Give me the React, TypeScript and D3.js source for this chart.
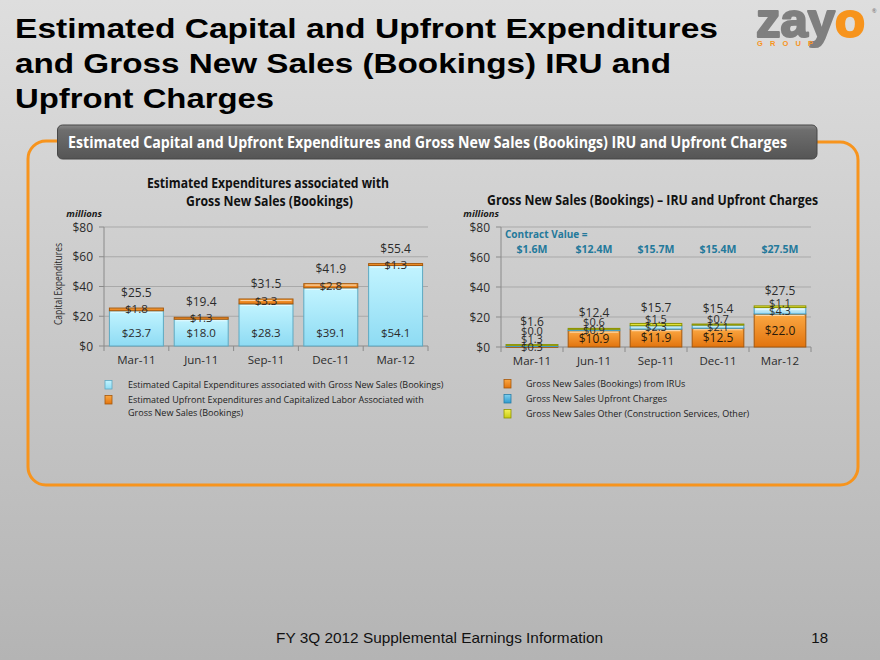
import React from 'react';
import * as d3 from 'd3';

// ---------- data ----------
const categories = ['Mar-11', 'Jun-11', 'Sep-11', 'Dec-11', 'Mar-12'];
// left chart
const capexValues = [23.7, 18.0, 28.3, 39.1, 54.1];
const upfrontExpValues = [1.8, 1.3, 3.3, 2.8, 1.3];
const expTotals = [25.5, 19.4, 31.5, 41.9, 55.4];
// right chart
const iruValues = [0.3, 10.9, 11.9, 12.5, 22.0];
const upfrontChargeValues = [1.3, 0.9, 2.3, 2.1, 4.3];
const otherValues = [0.0, 0.6, 1.5, 0.7, 1.1];
const bookingTotals = [1.6, 12.4, 15.7, 15.4, 27.5];
const contractValues = ['$1.6M', '$12.4M', '$15.7M', '$15.4M', '$27.5M'];
const yTicks = [0, 20, 40, 60, 80];

const leftLegend = [
  { key: 'cyan', lines: ['Estimated Capital Expenditures associated with Gross New Sales (Bookings)'] },
  { key: 'orange', lines: ['Estimated Upfront Expenditures and Capitalized Labor Associated with', 'Gross New Sales (Bookings)'] },
];
const rightLegend = [
  { key: 'orange', lines: ['Gross New Sales (Bookings) from IRUs'] },
  { key: 'blue', lines: ['Gross New Sales Upfront Charges'] },
  { key: 'yellow', lines: ['Gross New Sales Other (Construction Services, Other)'] },
];

const SANS = "'Open Sans', 'Noto Sans', sans-serif";
const ARIAL = "'Liberation Sans', Arial, sans-serif";
const fmt = (v: number) => `$${v.toFixed(1)}`;

const fills: Record<string, { grad: string; stroke: string }> = {
  cyan: { grad: 'gCyan', stroke: '#5ea9c2' },
  orange: { grad: 'gOrange', stroke: '#a6580c' },
  lightblue: { grad: 'gLightBlue', stroke: '#3e9bc4' },
  yellow: { grad: 'gYellow', stroke: '#8f9400' },
  blue: { grad: 'gBlue', stroke: '#2a7ea8' },
};

function Axes({ box, x, y }: any) {
  const step = x.step();
  return (
    <g>
      {yTicks.map((t) => (
        <g key={t}>
          {t > 0 && <line x1={box.left} x2={box.right} y1={y(t)} y2={y(t)} stroke="#a9a9a9" strokeWidth={1} />}
          <line x1={box.left - 5} x2={box.left} y1={y(t)} y2={y(t)} stroke="#8a8a8a" />
          <text x={box.left - 11} y={y(t) + 4.5} textAnchor="end" fontFamily={SANS} fontSize={12} fill="#2b2b2b">{`$${t}`}</text>
        </g>
      ))}
      <line x1={box.left} x2={box.left} y1={box.top} y2={box.bottom} stroke="#8a8a8a" />
      <line x1={box.left} x2={box.right} y1={box.bottom} y2={box.bottom} stroke="#8a8a8a" />
      {d3.range(categories.length + 1).map((i) => (
        <line key={i} x1={box.left + i * step} x2={box.left + i * step} y1={box.bottom} y2={box.bottom + 5} stroke="#8a8a8a" />
      ))}
      {categories.map((c) => (
        <text key={c} x={x(c) + x.bandwidth() / 2} y={box.bottom + 18} textAnchor="middle" fontFamily={SANS} fontSize={11.5} fill="#2b2b2b">{c}</text>
      ))}
      <text x={box.left - 2} y={box.top - 10} textAnchor="end" fontFamily={SANS} fontSize={9.5} fontStyle="italic" fontWeight="bold" fill="#1a1a1a">millions</text>
    </g>
  );
}

function Bar({ x, y0, y1, w, k }: any) {
  const f = fills[k];
  const h = Math.max(0.8, y0 - y1);
  return (
    <g>
      <rect x={x} y={y1} width={w} height={h} fill={`url(#${f.grad})`} stroke={f.stroke} strokeWidth={1} />
      {h > 4 && <line x1={x + 1.5} x2={x + w - 1.5} y1={y1 + 1.5} y2={y1 + 1.5} stroke="#ffffff" strokeOpacity={0.55} strokeWidth={1.2} />}
    </g>
  );
}

function LeftChart() {
  const box = { left: 104, right: 428, top: 227, bottom: 346 };
  const x = d3.scaleBand<string>().domain(categories).range([box.left, box.right]).paddingInner(0.167).paddingOuter(0.0835);
  const y = d3.scaleLinear().domain([0, 80]).range([box.bottom, box.top]);
  const rows = categories.map((c, i) => ({ cat: c, capex: capexValues[i], upfront: upfrontExpValues[i] }));
  const series = d3.stack<any>().keys(['capex', 'upfront'])(rows);
  const colorOf: Record<string, string> = { capex: 'cyan', upfront: 'orange' };
  const bw = x.bandwidth();
  return (
    <g>
      <text x={268} y={188} textAnchor="middle" fontFamily={SANS} fontWeight="bold" fontSize={13.5} fill="#111" textLength={242} lengthAdjust="spacingAndGlyphs">Estimated Expenditures associated with</text>
      <text x={269.5} y={206} textAnchor="middle" fontFamily={SANS} fontWeight="bold" fontSize={13.5} fill="#111" textLength={167} lengthAdjust="spacingAndGlyphs">Gross New Sales (Bookings)</text>
      <text transform={`translate(62,${284}) rotate(-90)`} textAnchor="middle" fontFamily={SANS} fontSize={10.5} fill="#2b2b2b" textLength={82} lengthAdjust="spacingAndGlyphs">Capital Expenditures</text>
      <Axes box={box} x={x} y={y} />
      {series.map((s) =>
        s.map((d: any, i: number) => (
          <Bar key={s.key + i} x={x(categories[i])} y0={y(d[0])} y1={y(d[1])} w={bw} k={colorOf[s.key]} />
        ))
      )}
      {categories.map((c, i) => {
        const cx = x(c)! + bw / 2;
        const s1 = series[1][i];
        return (
          <g key={c} fontFamily={SANS} fontSize={11.5} fill="#2b2b2b" textAnchor="middle">
            <text x={cx} y={y(0) - 9}>{fmt(capexValues[i])}</text>
            <text x={cx} y={(y(s1[0]) + y(s1[1])) / 2 + 4}>{fmt(upfrontExpValues[i])}</text>
            <text x={cx} y={y(s1[1]) - 11} fontSize={12}>{fmt(expTotals[i])}</text>
          </g>
        );
      })}
    </g>
  );
}

function RightChart() {
  const box = { left: 501, right: 811, top: 227, bottom: 347 };
  const x = d3.scaleBand<string>().domain(categories).range([box.left, box.right]).paddingInner(0.167).paddingOuter(0.0835);
  const y = d3.scaleLinear().domain([0, 80]).range([box.bottom, box.top]);
  const rows = categories.map((c, i) => ({ cat: c, iru: iruValues[i], upfront: upfrontChargeValues[i], other: otherValues[i] }));
  const keys = ['iru', 'upfront', 'other'];
  const series = d3.stack<any>().keys(keys)(rows);
  const colorOf: Record<string, string> = { iru: 'orange', upfront: 'lightblue', other: 'yellow' };
  const vals: Record<string, number[]> = { iru: iruValues, upfront: upfrontChargeValues, other: otherValues };
  const bw = x.bandwidth();
  return (
    <g>
      <text x={652.5} y={205} textAnchor="middle" fontFamily={SANS} fontWeight="bold" fontSize={13.5} fill="#111" textLength={331} lengthAdjust="spacingAndGlyphs">Gross New Sales (Bookings) – IRU and Upfront Charges</text>
      <Axes box={box} x={x} y={y} />
      <text x={505} y={238} fontFamily={SANS} fontWeight="bold" fontSize={10} fill="#23799b">Contract Value =</text>
      {categories.map((c, i) => (
        <text key={c} x={x(c)! + bw / 2} y={252.5} textAnchor="middle" fontFamily={SANS} fontWeight="bold" fontSize={10.5} fill="#23799b">{contractValues[i]}</text>
      ))}
      {series.map((s) =>
        s.map((d: any, i: number) => (
          <Bar key={s.key + i} x={x(categories[i])} y0={y(d[0])} y1={y(d[1])} w={bw} k={colorOf[s.key]} />
        ))
      )}
      {categories.map((c, i) => {
        const cx = x(c)! + bw / 2;
        let prev = Infinity;
        const labels = series.map((s, k) => {
          const d = s[i];
          const center = (y(d[0]) + y(d[1])) / 2;
          const cy = k === 0 ? center : Math.min(center, prev - 8);
          prev = cy;
          const isIru = k === 0;
          return (
            <text key={s.key} x={cx} y={cy + 4} fontSize={isIru && vals.iru[i] > 5 ? 12 : 11} fill={isIru && vals.iru[i] > 5 ? '#2a1a0a' : '#2b2b2b'}>{fmt(vals[keys[k]][i])}</text>
          );
        });
        const top = y(series[2][i][1]);
        const ty = Math.min(top - 15, prev - 9);
        return (
          <g key={c} fontFamily={SANS} textAnchor="middle">
            {labels}
            <text x={cx} y={ty + 4} fontSize={12} fill="#2b2b2b">{fmt(bookingTotals[i])}</text>
          </g>
        );
      })}
    </g>
  );
}

function Legend({ items, x, y0, textX }: any) {
  let row = 0;
  return (
    <g fontFamily={SANS} fontSize={9} fill="#222">
      {items.map((it: any) => {
        const yy = y0 + row * 15;
        const el = (
          <g key={it.key + row}>
            <rect x={x} y={yy - 4.5} width={7} height={8.5} fill={`url(#${fills[it.key].grad})`} stroke={fills[it.key].stroke} strokeWidth={0.8} />
            {it.lines.map((ln: string, j: number) => (
              <text key={j} x={textX} y={yy + 3 + j * 13}>{ln}</text>
            ))}
          </g>
        );
        row += it.lines.length === 1 ? 1 : 1.9;
        return el;
      })}
    </g>
  );
}

export default function App() {
  return (
    <svg width={880} height={660} viewBox="0 0 880 660" style={{ position: 'absolute', left: 0, top: 0 }}>
      <defs>
        <linearGradient id="gBg" x1="0" y1="0" x2="0" y2="1">
          <stop offset="0" stopColor="#dedede" />
          <stop offset="1" stopColor="#b4b4b4" />
        </linearGradient>
        <linearGradient id="gCyan" x1="0" y1="0" x2="0" y2="1">
          <stop offset="0" stopColor="#c2f4ff" />
          <stop offset="1" stopColor="#8edbf3" />
        </linearGradient>
        <linearGradient id="gOrange" x1="0" y1="0" x2="0" y2="1">
          <stop offset="0" stopColor="#fba843" />
          <stop offset="1" stopColor="#e2740e" />
        </linearGradient>
        <linearGradient id="gLightBlue" x1="0" y1="0" x2="0" y2="1">
          <stop offset="0" stopColor="#e0f7fd" />
          <stop offset="1" stopColor="#9cdaf0" />
        </linearGradient>
        <linearGradient id="gBlue" x1="0" y1="0" x2="0" y2="1">
          <stop offset="0" stopColor="#7fd0ef" />
          <stop offset="1" stopColor="#2f9bcf" />
        </linearGradient>
        <linearGradient id="gYellow" x1="0" y1="0" x2="0" y2="1">
          <stop offset="0" stopColor="#f4f25a" />
          <stop offset="1" stopColor="#c9cc12" />
        </linearGradient>
        <linearGradient id="gHeader" x1="0" y1="0" x2="0" y2="1">
          <stop offset="0" stopColor="#8a8a8a" />
          <stop offset="0.15" stopColor="#6e6e6e" />
          <stop offset="1" stopColor="#555555" />
        </linearGradient>
      </defs>
      <rect x={0} y={0} width={880} height={660} fill="url(#gBg)" />

      {/* Main title */}
      <g fontFamily={ARIAL} fontWeight="bold" fontSize={28} fill="#000">
        <text x={15} y={38} textLength={703} lengthAdjust="spacingAndGlyphs">Estimated Capital and Upfront Expenditures</text>
        <text x={15} y={73} textLength={656} lengthAdjust="spacingAndGlyphs">and Gross New Sales (Bookings) IRU and</text>
        <text x={15} y={108} textLength={259} lengthAdjust="spacingAndGlyphs">Upfront Charges</text>
      </g>

      {/* Logo */}
      <g fontFamily={ARIAL} fontWeight="bold">
        <text x={756} y={37} fontSize={48} textLength={109} lengthAdjust="spacingAndGlyphs" strokeWidth={2.2} strokeLinejoin="round">
          <tspan fill="#7f7f7f" stroke="#7f7f7f">zay</tspan><tspan fill="#f7941d" stroke="#f7941d">o</tspan>
        </text>
        <text x={757} y={46} fontSize={7.5} fill="#f7941d" textLength={56} lengthAdjust="spacing">GROUP</text>
        <text x={872} y={13} fontSize={6} fill="#7f7f7f">®</text>
      </g>

      {/* Panel border */}
      <path d="M57,141 H46 A18,18 0 0 0 28,159 V467 A18,18 0 0 0 46,485 H840 A18,18 0 0 0 858,467 V160 A18,18 0 0 0 840,142 H817" fill="none" stroke="#f7941d" strokeWidth={3} />
      <rect x={57.5} y={125} width={759.5} height={34} rx={5} fill="url(#gHeader)" stroke="#474747" strokeWidth={1} />
      <text x={68} y={147.5} fontFamily={SANS} fontWeight="bold" fontSize={15.5} fill="#ffffff" textLength={719} lengthAdjust="spacingAndGlyphs">Estimated Capital and Upfront Expenditures and Gross New Sales (Bookings) IRU and Upfront Charges</text>

      <LeftChart />
      <RightChart />

      <Legend items={leftLegend} x={105} y0={385} textX={128} />
      <Legend items={rightLegend} x={504} y0={384} textX={526} />

      {/* Footer */}
      <text x={276} y={643} fontFamily={ARIAL} fontSize={15} fill="#111" textLength={327} lengthAdjust="spacingAndGlyphs">FY 3Q 2012 Supplemental Earnings Information</text>
      <text x={828} y={643} textAnchor="end" fontFamily={ARIAL} fontSize={15} fill="#111">18</text>
    </svg>
  );
}
